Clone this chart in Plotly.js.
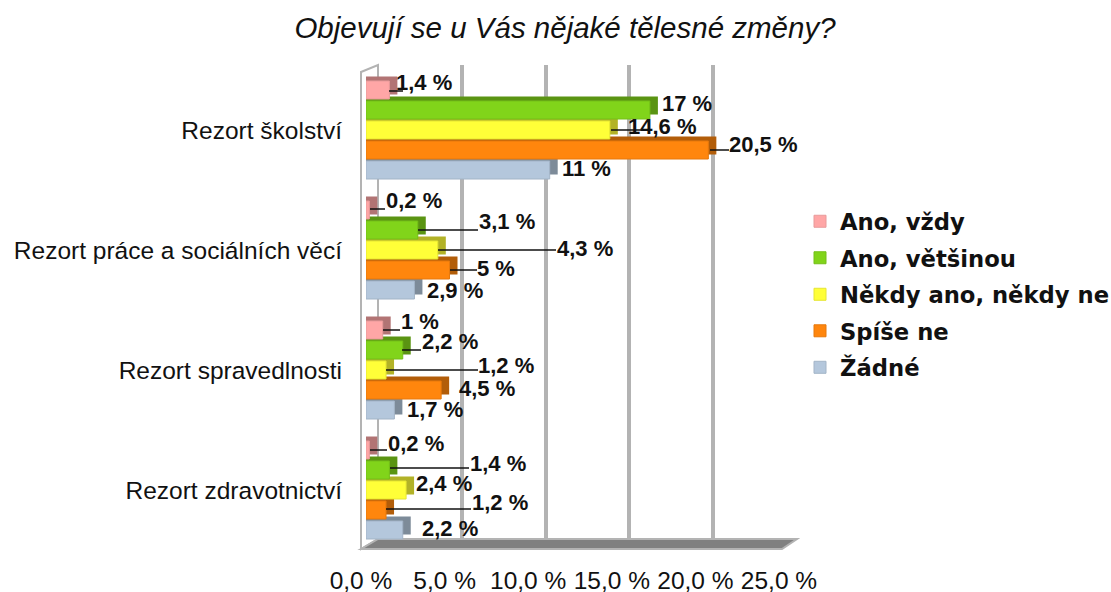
<!DOCTYPE html>
<html><head><meta charset="utf-8">
<script src="https://cdn.plot.ly/plotly-3.0.1.min.js"></script>
<style>html,body{margin:0;padding:0;background:#fff}#c{width:1111px;height:592px}</style></head>
<body><div id="c"></div>
<script>
const categories = ["Rezort školství","Rezort práce a sociálních věcí","Rezort spravedlnosti","Rezort zdravotnictví"];
const seriesNames = ["Ano, vždy","Ano, většinou","Někdy ano, někdy ne","Spíše ne","Žádné"];
const anoVzdy = [1.4,0.2,1,0.2];
const anoVetsinou = [17,3.1,2.2,1.4];
const nekdy = [14.6,4.3,1.2,2.4];
const spiseNe = [20.5,5,4.5,1.2];
const zadne = [11,2.9,1.7,2.2];
const seriesValues = [anoVzdy,anoVetsinou,nekdy,spiseNe,zadne];
const frontColors = ["#ffa6a6","#81d41a","#ffff38","#ff860d","#b4c7dc"];
const edgeColors = ["#e89a9a","#74bf18","#e6e632","#e6790c","#a3b4c7"];
const sideColors = ["#b27474","#5a9412","#b2b227","#b25d09","#7d8b99"];
const axisTicks = [0,5,10,15,20,25];
const axisTickText = ["0,0 %","5,0 %","10,0 %","15,0 %","20,0 %","25,0 %"];

// label placement: [series][category] => [label centre x, label centre y] in page pixels
const labelPos = [
 [[424,83],[414,201],[420,321],[416,443]],
 [[687,104],[507,222],[450,341],[498,463]],
 [[662,127],[585,249],[506,365],[444,483]],
 [[763,145],[496,268],[487,388],[500,502]],
 [[586,169],[455,290],[435,409],[450,528]]
];
// leader lines: [series, category, startX, endX, y]
const leaders = [
 [0,0,389,403,91],[2,0,611,641,130],[3,0,710,729,150],
 [0,1,370,385,209],[1,1,418,478,230],[2,1,438,556,250],[3,1,450,477,270],
 [0,2,383,400,330],[1,2,402,421,350],[2,2,386,478,370],
 [0,3,370,387,450],[1,3,390,469,468],[3,3,386,471,509]
];

const W=1111,H=592;
const fx=p=>p/W, fy=p=>1-p/H;
const dx=(a,b)=>[a/W,b/W], dy=(top,bot)=>[1-bot/H,1-top/H];
const font="Liberation Sans, Arial, sans-serif";
const X0=366, PX=16.7, Y0=70, ROW=120, BARPITCH=20, DEPTHX=8, DEPTHY=4.5;
const depthBase=-DEPTHX/PX;
const frontX=v=>X0+PX*v;
const rowOffset=s=>(s-2)*BARPITCH/ROW;
const rowY=(s,c)=>Y0+ROW*(c+0.5)+(s-2)*BARPITCH;

const traces=[];
traces.push({type:'bar',orientation:'h',x:[null],y:[categories[0]],xaxis:'x',yaxis:'y',showlegend:false,hoverinfo:'skip'});
traces.push({type:'bar',orientation:'h',x:[null],y:[categories[0]],xaxis:'x2',yaxis:'y2',showlegend:false,hoverinfo:'skip'});
seriesValues.forEach((vals,s)=>traces.push({type:'bar',orientation:'h',name:seriesNames[s]+' (depth)',
  x:vals.map(v=>v-depthBase),base:depthBase,y:categories,
  xaxis:'x3',yaxis:'y3',showlegend:false,hoverinfo:'skip',marker:{color:sideColors[s]}}));
seriesValues.forEach((vals,s)=>traces.push({type:'bar',orientation:'h',name:seriesNames[s],x:vals,y:categories,
  xaxis:'x4',yaxis:'y4',legendgroup:seriesNames[s],marker:{color:frontColors[s],line:{color:edgeColors[s],width:1}}}));

const annotations=[];
seriesValues.forEach((vals,s)=>vals.forEach((v,c)=>{
  const [tx,ty]=labelPos[s][c];
  annotations.push({xref:'x4',yref:'y4',x:v,y:c+rowOffset(s),showarrow:false,
    text:String(v).replace('.',',')+' %',xanchor:'center',yanchor:'middle',
    xshift:tx-frontX(v),yshift:rowY(s,c)-ty,
    font:{family:font,size:22,color:'#111',weight:'bold'}});
}));
const shapes=[
 {type:'path',xref:'paper',yref:'paper',layer:'below',path:`M${fx(361)},${fy(72)}L${fx(378)},${fy(65)}L${fx(378)},${fy(539)}L${fx(361)},${fy(549)}Z`,fillcolor:'#ffffff',line:{color:'#b3b3b3',width:2}},
 {type:'path',xref:'paper',yref:'paper',layer:'below',path:`M${fx(361)},${fy(549)}L${fx(378)},${fy(539)}L${fx(797)},${fy(539)}L${fx(782)},${fy(549)}Z`,fillcolor:'#808080',line:{color:'#b3b3b3',width:2}}
];
leaders.forEach(([s,c,a,b,y])=>{
  const v=seriesValues[s][c], yy=rowY(s,c)-y;
  shapes.push({type:'line',xref:'x4',yref:'y4',xsizemode:'pixel',ysizemode:'pixel',xanchor:v,yanchor:c+rowOffset(s),
    x0:a-frontX(v),x1:b-frontX(v),y0:yy,y1:yy,line:{color:'#111',width:1.5},layer:'above'});
});
const hidden={showgrid:false,zeroline:false,showticklabels:false,showline:false,ticks:''};
const xr=[0,25], yr=[3.5,-0.5];
const layout={
 width:W,height:H,margin:{l:0,r:0,t:0,b:0,pad:0,autoexpand:false},paper_bgcolor:'#fff',plot_bgcolor:'rgba(0,0,0,0)',
 barmode:'group',bargap:1/6,bargroupgap:0.1,
 title:{text:'<i>Objevují se u Vás nějaké tělesné změny?</i>',x:565/W,xanchor:'center',y:1-28/H,yanchor:'middle',font:{family:font,size:29.5,color:'#111'}},
 xaxis:{domain:dx(361,779),range:xr,anchor:'y',tickvals:axisTicks,ticktext:axisTickText,tickmode:'array',showgrid:false,zeroline:false,showline:false,ticks:'',
   ticklabelstandoff:14,tickfont:{family:font,size:24.5,color:'#111'}},
 yaxis:{domain:dy(65,549),range:yr,type:'category',categoryarray:categories,anchor:'x',...hidden},
 xaxis2:{domain:dx(378.5,796),range:xr,anchor:'y2',tickvals:axisTicks,tickmode:'array',showticklabels:false,showgrid:true,gridcolor:'#b3b3b3',gridwidth:3.5,zeroline:false,showline:false,ticks:''},
 yaxis2:{domain:dy(65,539),range:yr,type:'category',categoryarray:categories,anchor:'x2',...hidden},
 xaxis3:{domain:dx(X0,X0+DEPTHX+PX*25),range:[depthBase,25],anchor:'y3',...hidden},
 yaxis3:{domain:dy(Y0-DEPTHY,Y0-DEPTHY+ROW*4),range:yr,type:'category',categoryarray:categories,anchor:'x3',...hidden},
 xaxis4:{domain:dx(X0,X0+PX*25),range:xr,anchor:'y4',...hidden},
 yaxis4:{domain:dy(Y0,Y0+ROW*4),range:yr,type:'category',categoryarray:categories,anchor:'x4',showgrid:false,zeroline:false,showline:false,ticks:'',
   ticklabelstandoff:23,tickfont:{family:font,size:24.5,color:'#111'}},
 legend:{x:fx(805),y:fy(200),xanchor:'left',yanchor:'top',traceorder:'grouped',tracegroupgap:4,indentation:-5,bgcolor:'rgba(0,0,0,0)',
   font:{family:'DejaVu Sans, sans-serif',size:22.7,color:'#111',weight:'bold'}},
 annotations,shapes,hovermode:false
};
Plotly.newPlot('c',traces,layout,{displayModeBar:false,responsive:false});
</script></body></html>
